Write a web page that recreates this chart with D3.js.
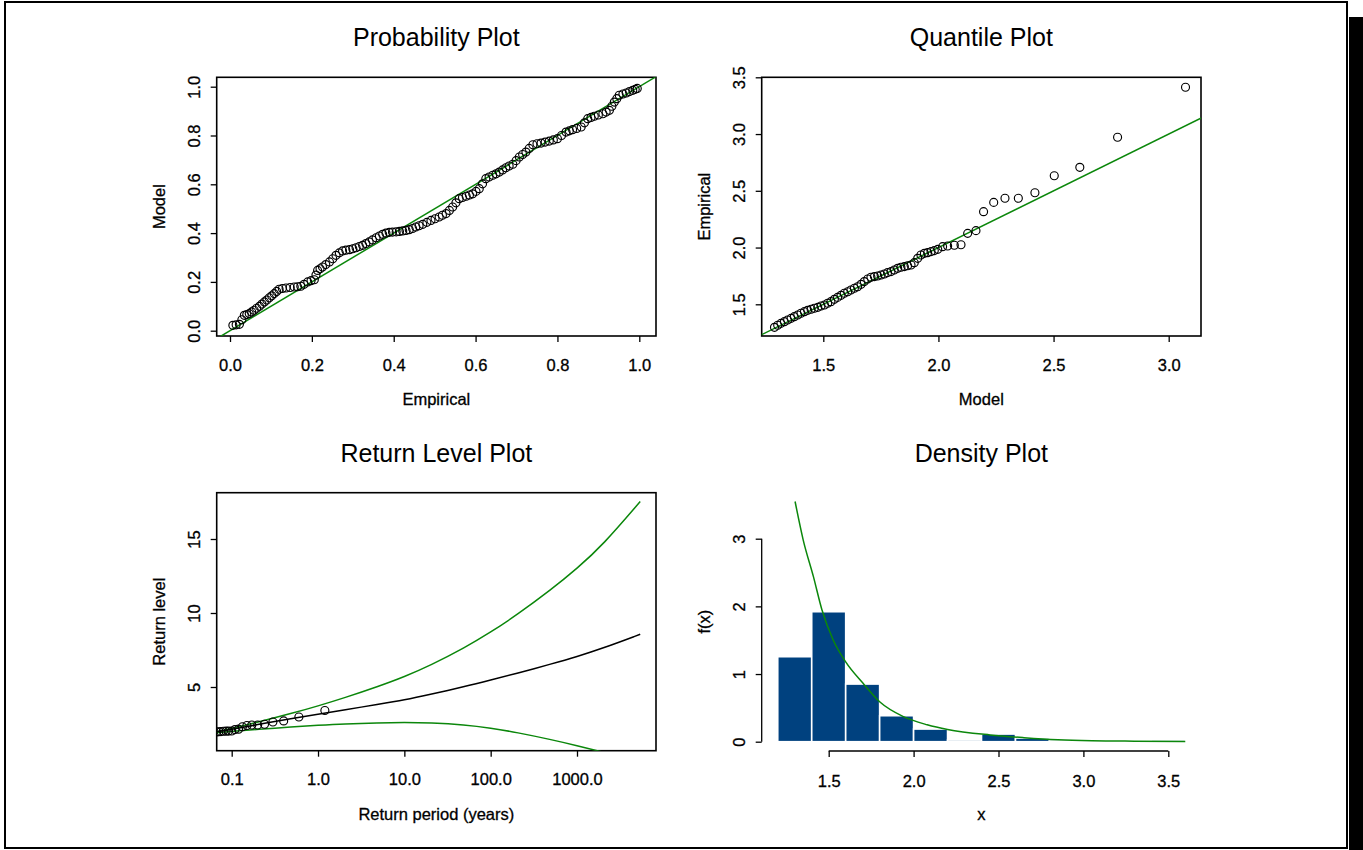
<!DOCTYPE html>
<html lang="en">
<head>
  <meta charset="utf-8">
  <title>fevd diagnostics</title>
  <style>
    body { margin: 0; background: #fff; }
    svg { display: block; font-family: "Liberation Sans", Arial, Helvetica, sans-serif; }
    .tick text { font-size: 16.5px; fill: #000; stroke: #000; stroke-width: 0.3px; }
    .tick line { stroke: #000; stroke-width: 1.3; }
    .title { font-size: 25px; fill: #000; text-anchor: middle; }
    .lab { font-size: 16.5px; fill: #000; text-anchor: middle; stroke: #000; stroke-width: 0.3px; }
    .box { fill: none; stroke: #000; stroke-width: 1.6; }
    .pt { fill: none; stroke: #000; stroke-width: 1.15; }
  </style>
</head>
<body>
<div id="chart"></div>
<script src="https://cdn.jsdelivr.net/npm/d3@7"></script>
<script>
// --- probability plot (empirical prob vs model prob)
const probEmpirical = [0.007,0.015,0.023,0.029,0.035,0.041,0.047,0.053,0.059,0.065,
  0.072,0.078,0.084,0.09,0.096,0.102,0.108,0.114,0.12,0.128,
  0.137,0.147,0.157,0.165,0.173,0.181,0.19,0.198,0.206,0.21,
  0.214,0.22,0.226,0.234,0.243,0.251,0.259,0.267,0.275,0.283,
  0.292,0.3,0.308,0.316,0.324,0.332,0.34,0.348,0.357,0.365,
  0.373,0.381,0.389,0.397,0.406,0.414,0.422,0.43,0.438,0.446,
  0.454,0.462,0.471,0.481,0.491,0.501,0.511,0.519,0.528,0.536,
  0.544,0.552,0.56,0.568,0.577,0.585,0.593,0.601,0.609,0.617,
  0.625,0.633,0.642,0.65,0.658,0.666,0.674,0.682,0.691,0.699,
  0.707,0.715,0.723,0.731,0.74,0.75,0.76,0.77,0.78,0.79,
  0.8,0.81,0.821,0.829,0.837,0.847,0.858,0.866,0.874,0.882,
  0.89,0.9,0.911,0.919,0.927,0.933,0.939,0.945,0.951,0.96,
  0.968,0.976,0.984,0.99,0.995];
const probModel = [0.022,0.024,0.026,0.045,0.063,0.066,0.07,0.077,0.084,0.092,
  0.1,0.109,0.118,0.126,0.135,0.143,0.152,0.161,0.17,0.173,
  0.175,0.177,0.179,0.18,0.182,0.19,0.2,0.205,0.209,0.228,
  0.247,0.254,0.261,0.271,0.282,0.295,0.309,0.319,0.327,0.33,
  0.332,0.336,0.34,0.345,0.35,0.357,0.364,0.372,0.381,0.388,
  0.395,0.4,0.403,0.404,0.405,0.407,0.409,0.411,0.414,0.419,
  0.425,0.43,0.436,0.444,0.452,0.459,0.466,0.473,0.48,0.493,
  0.507,0.524,0.541,0.546,0.551,0.556,0.561,0.571,0.582,0.602,
  0.623,0.63,0.637,0.643,0.65,0.659,0.668,0.675,0.682,0.697,
  0.712,0.722,0.732,0.747,0.762,0.766,0.769,0.773,0.777,0.782,
  0.787,0.8,0.814,0.819,0.824,0.829,0.835,0.852,0.869,0.874,
  0.879,0.884,0.889,0.896,0.903,0.92,0.937,0.951,0.965,0.97,
  0.974,0.98,0.985,0.989,0.993];
const probTicks = [0, 0.2, 0.4, 0.6, 0.8, 1.0];

// --- quantile plot (model quantile vs empirical quantile)
const quantModel = [1.288,1.302,1.316,1.331,1.345,1.360,1.374,1.389,1.403,1.418,1.432,1.447,1.461,1.476,1.490,1.505,1.519,1.533,1.548,1.562,1.577,1.591,1.606,1.620,1.635,1.649,1.664,1.678,1.693,1.707,1.722,1.736,1.751,1.765,1.779,1.794,1.808,1.823,1.837,1.852,1.866,1.881,1.895,1.910,1.924,1.939,1.953,1.968,1.982,1.997,2.018,2.040,2.069,2.098,2.127,2.163,2.196,2.240,2.289,2.347,2.419,2.503,2.614,2.778,3.073];
const quantEmpirical = [1.297,1.315,1.332,1.347,1.362,1.376,1.391,1.406,1.421,1.435,1.447,1.456,1.465,1.473,1.485,1.494,1.509,1.523,1.544,1.561,1.579,1.597,1.611,1.626,1.641,1.655,1.676,1.700,1.723,1.738,1.744,1.749,1.758,1.767,1.779,1.788,1.802,1.817,1.826,1.832,1.840,1.846,1.867,1.905,1.934,1.949,1.955,1.964,1.973,1.984,2.008,2.014,2.020,2.025,2.125,2.149,2.316,2.398,2.434,2.434,2.483,2.633,2.707,2.972,3.412];
const quantXTicks = [1.5, 2.0, 2.5, 3.0];
const quantYTicks = [1.5, 2.0, 2.5, 3.0, 3.5];

// --- return level plot
const rlPointPeriod = [1.2,0.6,0.4,0.3,0.24,0.2,0.171,0.15,0.133,0.12,0.109,0.1,0.092,0.086,0.08,0.075,0.071,0.067];
const rlPointLevel = [3.412,2.972,2.707,2.633,2.483,2.434,2.434,2.398,2.316,2.149,2.125,2.025,2.020,2.014,2.008,1.984,1.973,1.964];
const rlPeriod = [0.067,0.1,0.2,0.5,1,2,5,10,20,50,100,200,500,1000,2000,5400];
const rlLevel = [1.98,2.13,2.47,2.87,3.15,3.45,3.83,4.12,4.50,5.03,5.47,5.92,6.55,7.05,7.62,8.56];
const rlUpper = [1.97,2.2,2.62,3.22,3.72,4.26,5.04,5.69,6.46,7.65,8.70,9.86,11.57,13.0,14.6,17.53];
const rlLower = [1.91,2.0,2.14,2.30,2.41,2.51,2.58,2.60,2.58,2.45,2.23,1.93,1.45,1.04,0.6,-0.05];
const rlXTicks = [0.1, 1, 10, 100, 1000];
const rlYTicks = [5, 10, 15];

// --- density plot
const histBreaks = [1.2,1.4,1.6,1.8,2.0,2.2,2.4,2.6,2.8,3.0,3.2,3.4,3.6];
const histDensity = [1.256,1.921,0.852,0.384,0.187,0.025,0.113,0.054,0.025,0,0,0.025];
const densX = [1.302,1.35,1.41,1.46,1.527,1.6,1.7,1.8,1.94,2.08,2.2,2.45,2.65,2.85,3.05,3.3,3.6];
const densY = [3.55,2.98,2.44,1.95,1.50,1.18,0.87,0.59,0.37,0.25,0.18,0.10,0.06,0.03,0.015,0.008,0.004];
const densXTicks = [1.5, 2.0, 2.5, 3.0, 3.5];
const densYTicks = [0, 1, 2, 3];

const W = 1363, H = 850;
const green = "#0b870b";
const fmt1 = d3.format(".1f");

const svg = d3.select("#chart").append("svg")
  .attr("width", W).attr("height", H);

// page frame + shadow on the right
svg.append("rect").attr("x", 1349).attr("y", 17).attr("width", 14).attr("height", H - 17).attr("fill", "#000");
svg.append("rect").attr("x", 5).attr("y", 2).attr("width", 1342).attr("height", 846)
  .attr("fill", "#fff").attr("stroke", "#000").attr("stroke-width", 2);

// plot regions
const boxes = {
  prob: {x0: 216.7, x1: 656, y0: 77.3, y1: 336},
  quant: {x0: 761.7, x1: 1201, y0: 77.3, y1: 336},
  rl: {x0: 216.7, x1: 656, y0: 492.7, y1: 750.7},
  dens: {x0: 761.7, x1: 1201, y0: 492.7, y1: 750.7}
};

function frame(b, id, title, xlab, ylab, drawBox) {
  const g = svg.append("g");
  if (drawBox) g.append("rect").attr("class", "box")
    .attr("x", b.x0).attr("y", b.y0).attr("width", b.x1 - b.x0).attr("height", b.y1 - b.y0);
  svg.append("clipPath").attr("id", id).append("rect")
    .attr("x", b.x0).attr("y", b.y0).attr("width", b.x1 - b.x0).attr("height", b.y1 - b.y0);
  const cx = (b.x0 + b.x1) / 2, cy = (b.y0 + b.y1) / 2;
  g.append("text").attr("class", "title").attr("x", cx).attr("y", b.y0 - 31).text(title);
  g.append("text").attr("class", "lab").attr("x", cx).attr("y", b.y1 + 69).text(xlab);
  g.append("text").attr("class", "lab")
    .attr("transform", `translate(${b.x0 - 57},${cy}) rotate(-90)`)
    .attr("dy", "0.35em").text(ylab);
  return g;
}

function xAxis(g, scale, ticks, yPos, fmt) {
  const a = g.append("g").attr("transform", `translate(0,${yPos})`)
    .call(d3.axisBottom(scale).tickValues(ticks).tickSize(6).tickSizeOuter(0).tickPadding(17).tickFormat(fmt));
  a.select(".domain").remove();
  return a;
}

function yAxis(g, scale, ticks, xPos, fmt) {
  const a = g.append("g").attr("transform", `translate(${xPos},0)`)
    .call(d3.axisLeft(scale).tickValues(ticks).tickSize(6).tickSizeOuter(0).tickFormat(fmt));
  a.select(".domain").remove();
  a.selectAll(".tick text")
    .attr("transform", "rotate(-90)")
    .attr("x", 0).attr("y", -22.5).attr("dy", "0.35em")
    .style("text-anchor", "middle");
  return a;
}

// ---------- Probability Plot
{
  const b = boxes.prob;
  const x = d3.scaleLinear().domain([0, 1]).range([230, 639.3]);
  const y = d3.scaleLinear().domain([0, 1]).range([330.7, 86.7]);
  const g = frame(b, "clip-prob", "Probability Plot", "Empirical", "Model", true);
  xAxis(g, x, probTicks, b.y1, fmt1);
  yAxis(g, y, probTicks, b.x0, fmt1);
  const p = g.append("g").attr("clip-path", "url(#clip-prob)");
  const lo = x.invert(b.x0) - 0.1, hi = x.invert(b.x1) + 0.1;
  p.append("line").attr("x1", x(lo)).attr("y1", y(lo)).attr("x2", x(hi)).attr("y2", y(hi))
    .attr("stroke", green).attr("stroke-width", 1.5);
  p.selectAll("circle").data(probEmpirical).join("circle").attr("class", "pt")
    .attr("cx", d => x(d)).attr("cy", (d, i) => y(probModel[i])).attr("r", 4);
}

// ---------- Quantile Plot
{
  const b = boxes.quant;
  const x = d3.scaleLinear().domain([1.5, 3.0]).range([823.3, 1168.7]);
  const y = d3.scaleLinear().domain([1.5, 3.5]).range([304.3, 77.3]);
  const g = frame(b, "clip-quant", "Quantile Plot", "Model", "Empirical", true);
  xAxis(g, x, quantXTicks, b.y1, fmt1);
  yAxis(g, y, quantYTicks, b.x0, fmt1);
  const p = g.append("g").attr("clip-path", "url(#clip-quant)");
  const lo = x.invert(b.x0) - 0.2, hi = x.invert(b.x1) + 0.2;
  p.append("line").attr("x1", x(lo)).attr("y1", y(lo)).attr("x2", x(hi)).attr("y2", y(hi))
    .attr("stroke", green).attr("stroke-width", 1.5);
  p.selectAll("circle").data(quantModel).join("circle").attr("class", "pt")
    .attr("cx", d => x(d)).attr("cy", (d, i) => y(quantEmpirical[i])).attr("r", 4);
}

// ---------- Return Level Plot
{
  const b = boxes.rl;
  const x = d3.scaleLog().domain([0.1, 1000]).range([231.7, 577]);
  const y = d3.scaleLinear().domain([5, 15]).range([687, 539]);
  const g = frame(b, "clip-rl", "Return Level Plot", "Return period (years)", "Return level", true);
  xAxis(g, x, rlXTicks, b.y1, d => d < 1 ? "0.1" : fmt1(d));
  yAxis(g, y, rlYTicks, b.x0, d3.format("d"));
  const p = g.append("g").attr("clip-path", "url(#clip-rl)");
  const line = vals => d3.line().curve(d3.curveBasis)
    .x((d, i) => x(rlPeriod[i])).y(d => y(d))(vals);
  p.append("path").attr("d", line(rlUpper)).attr("fill", "none").attr("stroke", green).attr("stroke-width", 1.5);
  p.append("path").attr("d", line(rlLower)).attr("fill", "none").attr("stroke", green).attr("stroke-width", 1.5);
  p.append("path").attr("d", line(rlLevel)).attr("fill", "none").attr("stroke", "#000").attr("stroke-width", 1.5);
  p.selectAll("circle").data(rlPointPeriod).join("circle").attr("class", "pt")
    .attr("cx", d => x(d)).attr("cy", (d, i) => y(rlPointLevel[i])).attr("r", 4);
}

// ---------- Density Plot
{
  const b = boxes.dens;
  const x = d3.scaleLinear().domain([1.5, 3.5]).range([828.7, 1168.3]);
  const y = d3.scaleLinear().domain([0, 3]).range([741.7, 538.7]);
  const g = frame(b, "clip-dens", "Density Plot", "x", "f(x)", false);
  const bars = histDensity.map((d, i) => ({lo: histBreaks[i], hi: histBreaks[i + 1], v: d}));
  g.append("g").selectAll("rect").data(bars).join("rect")
    .attr("x", d => x(d.lo)).attr("width", d => x(d.hi) - x(d.lo))
    .attr("y", d => y(d.v)).attr("height", d => y(0) - y(d.v))
    .attr("fill", "#00417f").attr("stroke", "#fff").attr("stroke-width", 1.6);
  g.append("path")
    .attr("d", d3.line().curve(d3.curveMonotoneX).x(d => x(d)).y((d, i) => y(densY[i]))(densX))
    .attr("fill", "none").attr("stroke", green).attr("stroke-width", 1.5);
  const xa = g.append("g").attr("transform", "translate(0,751)")
    .call(d3.axisBottom(x).tickValues(densXTicks).tickSize(6).tickSizeOuter(0).tickPadding(18).tickFormat(fmt1));
  xa.select(".domain").attr("d", `M${x(1.5)},0H${x(3.5)}`).attr("stroke", "#000").attr("stroke-width", 1.3);
  const ya = g.append("g").attr("transform", `translate(${b.x0},0)`)
    .call(d3.axisLeft(y).tickValues(densYTicks).tickSize(6).tickSizeOuter(0).tickFormat(d3.format("d")));
  ya.select(".domain").attr("d", `M0,${y(0)}V${y(3)}`).attr("stroke", "#000").attr("stroke-width", 1.3);
  ya.selectAll(".tick text")
    .attr("transform", "rotate(-90)")
    .attr("x", 0).attr("y", -22.5).attr("dy", "0.35em")
    .style("text-anchor", "middle");
}
</script>
</body>
</html>
